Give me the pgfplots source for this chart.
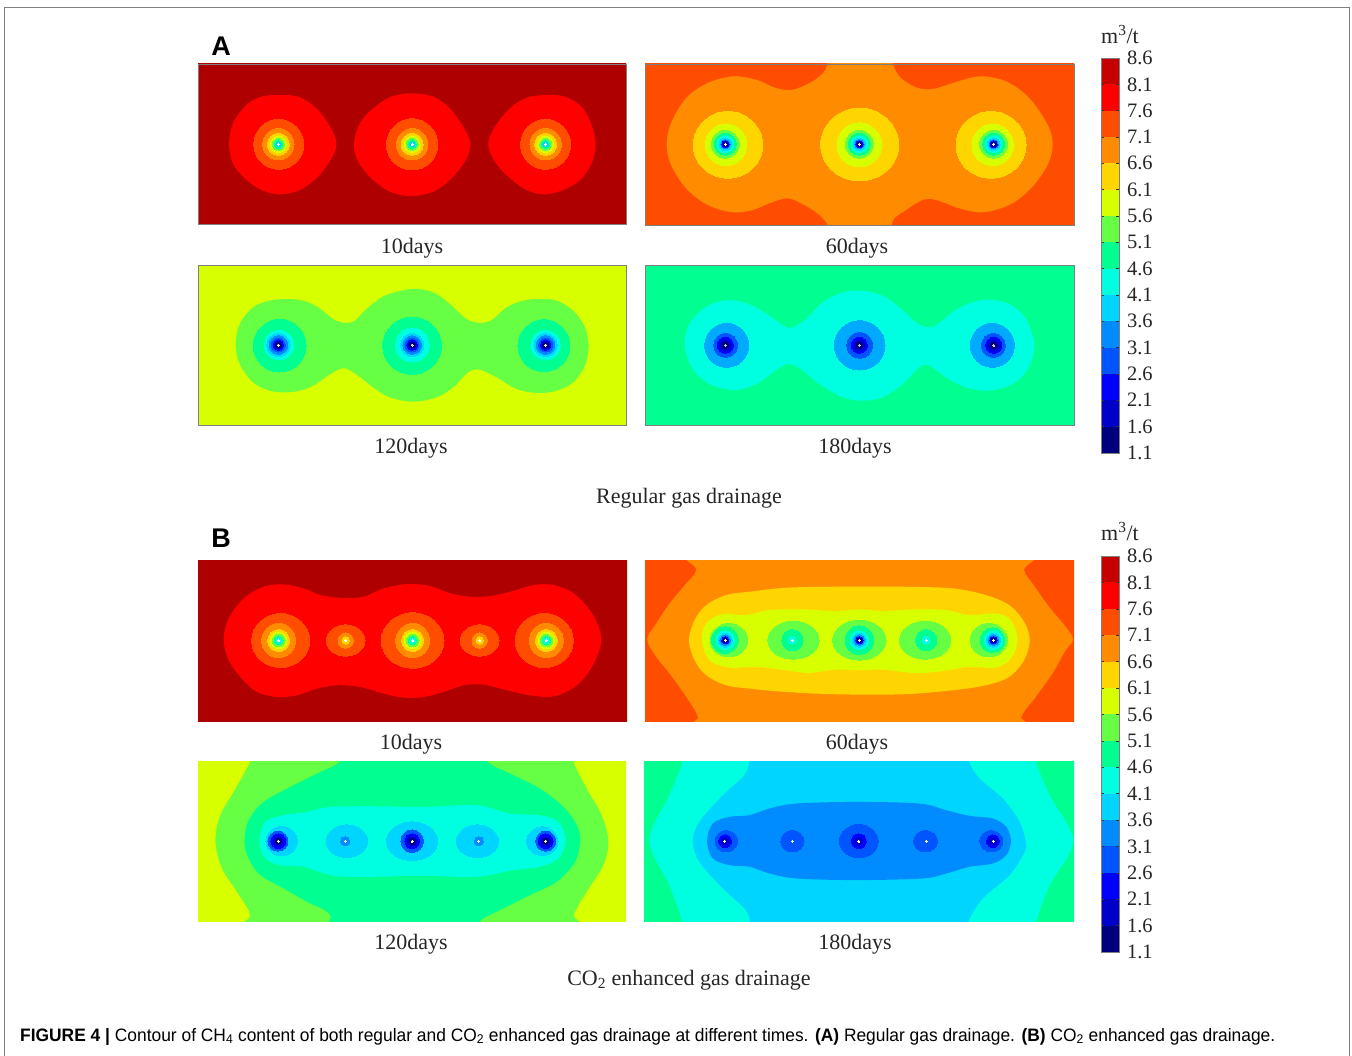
\documentclass[border=0pt]{standalone}
\usepackage{pgfplots}
\pgfplotsset{compat=1.18}
\usepackage{fontspec}
\setmainfont{Liberation Serif}
\newfontfamily\capfont{Liberation Sans}
\definecolor{LA}{HTML}{00007F}
\definecolor{LB}{HTML}{0000C8}
\definecolor{LC}{HTML}{0000FF}
\definecolor{LD}{HTML}{0055FF}
\definecolor{LE}{HTML}{008CFF}
\definecolor{LF}{HTML}{00D5FF}
\definecolor{LG}{HTML}{00FFE0}
\definecolor{LH}{HTML}{00FF90}
\definecolor{LI}{HTML}{66FF44}
\definecolor{LJ}{HTML}{D8FF00}
\definecolor{LK}{HTML}{FFD500}
\definecolor{LL}{HTML}{FF8C00}
\definecolor{LM}{HTML}{FF4D00}
\definecolor{LN}{HTML}{FF0000}
\definecolor{LO}{HTML}{AF0000}
\definecolor{LP}{HTML}{C40000}
\definecolor{LX}{HTML}{00AAFF}
\newcommand\bg[1]{\addplot[fill=#1,draw=none] coordinates {(-100,-100)(1500,-100)(1500,700)(-100,700)} --cycle;}
\newcommand\blob[2]{\addplot[fill=#1,draw=none,/tikz/smooth cycle,tension=0.55] coordinates {#2};}
\newcommand\ring[4]{\addplot[only marks,mark=*,mark size=#3/3,color=#1,mark options={draw=#1,line width=0pt,fill=#1,xscale=#2/#3}] coordinates {#4};}
\newcommand\lev[3]{\addplot[fill=#1,draw=none] coordinates {(0,#2)(1,#2)(1,#3)(0,#3)} --cycle;}
\tikzset{lb/.style={font=\fontsize{22}{26}\selectfont,anchor=base,text=black!85}}
\pgfplotsset{
  panel/.style n args={4}{at={(#1pt,-#2pt)},anchor=north west,scale only axis,width=#3pt,height=#4pt,
    y dir=reverse,xtick=\empty,ytick=\empty,axis on top},
  pa/.style={axis line style={draw=black!50,line width=0.8pt}},
  pb/.style={axis line style={draw=none}},
  cbar/.style n args={3}{at={(1101pt,-#1pt)},anchor=north west,scale only axis,width=#3pt,height=#2pt,
    xmin=0,xmax=1,ymin=1.1,ymax=8.6,xtick=\empty,axis on top,
    ytick={1.1,1.6,2.1,2.6,3.1,3.6,4.1,4.6,5.1,5.6,6.1,6.6,7.1,7.6,8.1,8.6},
    ytick pos=both,yticklabel pos=right,
    major tick length=3pt,tick style={draw=black!80,line width=0.6pt},
    axis line style={draw=black!50,line width=0.6pt},
    yticklabel style={font=\fontsize{20.5}{22}\selectfont,xshift=4.5pt,anchor=west,black!85},
    /pgf/number format/assume math mode=true,/pgf/number format/fixed,/pgf/number format/fixed zerofill,/pgf/number format/precision=1}
}
\newcommand\cbarbody{%
\lev{LA}{1.1}{1.6}\lev{LB}{1.6}{2.1}\lev{LC}{2.1}{2.6}\lev{LD}{2.6}{3.1}\lev{LE}{3.1}{3.6}%
\lev{LF}{3.6}{4.1}\lev{LG}{4.1}{4.6}\lev{LH}{4.6}{5.1}\lev{LI}{5.1}{5.6}\lev{LJ}{5.6}{6.1}%
\lev{LK}{6.1}{6.6}\lev{LL}{6.6}{7.1}\lev{LM}{7.1}{7.6}\lev{LN}{7.6}{8.1}\lev{LP}{8.1}{8.6}}
\begin{document}
\begin{tikzpicture}
\path[use as bounding box] (0,0) rectangle (1352pt,-1056pt);
% page layer: frame and texts
\begin{axis}[at={(0pt,-1056pt)},anchor=south west,scale only axis,width=1352pt,height=1056pt,
  xmin=0,xmax=1352,ymin=0,ymax=1056,y dir=reverse,hide axis,clip=false]
\addplot[draw=black!50,line width=1pt] coordinates {(4,1056)(4,7)(1349,7)(1349,1056)};
\node[lb] at (axis cs:412,253) {10days};
\node[lb] at (axis cs:857,253) {60days};
\node[lb] at (axis cs:411,453) {120days};
\node[lb] at (axis cs:855,453) {180days};
\node[lb] at (axis cs:689,503) {Regular gas drainage};
\node[lb] at (axis cs:411,749) {10days};
\node[lb] at (axis cs:857,749) {60days};
\node[lb] at (axis cs:411,949) {120days};
\node[lb] at (axis cs:855,949) {180days};
\node[lb] at (axis cs:689,985) {CO\textsubscript{2} enhanced gas drainage};
\node[lb,font=\fontsize{22}{24}\selectfont] at (axis cs:1120,43) {m\textsuperscript{3}/t};
\node[lb,font=\fontsize{22}{24}\selectfont] at (axis cs:1120,540) {m\textsuperscript{3}/t};
\node[anchor=base,font=\capfont\bfseries\fontsize{27}{30}\selectfont] at (axis cs:221,55) {A};
\node[anchor=base,font=\capfont\bfseries\fontsize{27}{30}\selectfont] at (axis cs:221,547) {B};
\node[anchor=base west,inner sep=0pt,font=\capfont\fontsize{18}{20}\selectfont] at (axis cs:20,1041)
 {\scalebox{0.966}[1]{\textbf{FIGURE 4 |} Contour of CH\textsubscript{4} content of both regular and CO\textsubscript{2} enhanced gas drainage at different times. \textbf{(A)} Regular gas drainage. \textbf{(B)} CO\textsubscript{2} enhanced gas drainage.}};
\end{axis}
% A 10 days
\begin{axis}[panel={198}{64}{428}{160},pa,xmin=25,xmax=1308,ymin=27,ymax=507]
\bg{LO}
\blob{LN}{(118,268)(130,205)(170,150)(215,125)(270,120)(325,125)(375,155)(415,205)(440,262)(425,310)(385,365)(330,405)(270,418)(215,405)(165,370)(130,325)}
\blob{LN}{(492,268)(510,205)(550,160)(605,125)(665,115)(730,125)(780,160)(820,215)(842,268)(825,320)(780,375)(730,410)(665,423)(600,410)(545,370)(505,320)}
\blob{LN}{(895,268)(915,215)(960,160)(1010,128)(1070,120)(1125,125)(1175,155)(1205,210)(1217,270)(1205,325)(1170,375)(1120,405)(1065,418)(1010,405)(955,365)(915,320)}
\ring{LM}{75}{75}{(267,268)(1067,268)}
\ring{LM}{77}{77}{(667,268)}
\ring{LL}{47}{47}{(266,268)(667,268)(1067,268)}
\ring{LK}{33}{33}{(266,268)(667,268)(1067,268)}
\ring{LJ}{24}{24}{(266,268)(667,268)(1067,268)}
\ring{LI}{18}{18}{(266,268)(667,268)(1067,268)}
\ring{LH}{13}{13}{(266,268)(667,268)(1067,268)}
\ring{LF}{8}{8}{(266,268)(667,268)(1067,268)}
\ring{white}{3}{3}{(266,268)(667,268)(1067,268)}
\end{axis}
% A 60 days
\begin{axis}[panel={645}{64}{429}{161},pa,xmin=27,xmax=1314,ymin=28,ymax=510]
\bg{LM}
\blob{LL}{(92,268)(105,205)(150,130)(215,85)(290,65)(360,75)(420,100)(470,105)(530,80)(565,50)(578,15)(590,-30)(750,-30)(765,15)(790,65)(840,98)(890,103)(950,85)(1030,65)(1110,80)(1180,130)(1235,210)(1250,268)(1235,330)(1185,400)(1120,450)(1040,472)(970,460)(900,435)(860,435)(810,465)(775,490)(765,515)(750,570)(590,570)(578,515)(550,480)(505,450)(455,430)(400,445)(350,465)(290,472)(215,450)(150,400)(105,330)}
\ring{LK}{104}{100}{(276,270)}
\ring{LK}{117}{109}{(671,269)}
\ring{LK}{105}{100}{(1065,270)}
\ring{LJ}{62}{62}{(270,270)(1070,270)}
\ring{LJ}{67}{66}{(670,270)}
\ring{LI}{42}{42}{(268,268)(670,268)(1073,268)}
\ring{LH}{33}{33}{(268,268)(670,268)(1073,268)}
\ring{LG}{25}{25}{(268,268)(670,268)(1073,268)}
\ring{LF}{19}{19}{(268,268)(670,268)(1073,268)}
\ring{LE}{14}{14}{(268,268)(670,268)(1073,268)}
\ring{LC}{11}{11}{(268,268)(670,268)(1073,268)}
\ring{LA}{7}{7}{(268,268)(670,268)(1073,268)}
\ring{white}{3}{3}{(268,268)(670,268)(1073,268)}
\end{axis}
% A 120 days
\begin{axis}[panel={198}{265}{428}{160},pa,xmin=25,xmax=1308,ymin=28,ymax=508]
\bg{LJ}
\blob{LI}{(138,268)(150,205)(190,155)(240,135)(290,130)(340,135)(385,155)(430,190)(465,202)(495,195)(530,160)(585,120)(665,100)(730,110)(780,145)(830,190)(875,202)(910,190)(950,155)(1000,135)(1050,130)(1100,135)(1150,165)(1185,215)(1196,270)(1185,330)(1150,380)(1100,405)(1045,412)(980,400)(920,365)(870,342)(835,350)(790,395)(740,425)(670,438)(600,425)(550,395)(505,360)(465,338)(430,350)(370,390)(330,405)(290,410)(240,405)(190,380)(150,325)}
\ring{LH}{79}{79}{(270,270)}
\ring{LH}{88}{86}{(667,270)}
\ring{LH}{78}{78}{(1062,270)}
\ring{LG}{44}{44}{(268,268)(1067,268)}
\ring{LG}{51}{51}{(667,268)}
\ring{LF}{35}{35}{(266,268)(667,268)(1067,268)}
\ring{LE}{28}{28}{(266,268)(667,268)(1067,268)}
\ring{LD}{21}{21}{(266,268)(667,268)(1067,268)}
\ring{LC}{16}{16}{(266,268)(667,268)(1067,268)}
\ring{LA}{10}{10}{(266,268)(667,268)(1067,268)}
\ring{white}{3}{3}{(266,268)(667,268)(1067,268)}
\end{axis}
% A 180 days
\begin{axis}[panel={645}{265}{429}{160},pa,xmin=27,xmax=1314,ymin=28,ymax=508]
\bg{LH}
\blob{LG}{(146,270)(160,205)(200,160)(250,137)(300,135)(350,150)(400,180)(445,212)(470,215)(510,190)(560,140)(620,110)(680,105)(740,120)(790,155)(840,200)(875,215)(905,205)(955,165)(1010,140)(1060,132)(1120,145)(1170,190)(1195,270)(1175,340)(1130,385)(1060,405)(990,395)(930,365)(880,330)(850,335)(800,385)(740,425)(680,435)(620,425)(550,385)(500,345)(460,325)(425,340)(370,380)(320,400)(280,402)(220,385)(170,340)}
\ring{LX}{66}{66}{(272,269)(1069,269)}
\ring{LX}{76}{74}{(671,269)}
\ring{LD}{36}{36}{(269,269)(1072,269)}
\ring{LD}{39}{39}{(671,269)}
\ring{LC}{24}{24}{(268,269)(670,269)(1073,269)}
\ring{LB}{17}{17}{(268,269)(670,269)(1073,269)}
\ring{LA}{10}{10}{(268,269)(670,269)(1073,269)}
\ring{white!80!black}{3}{3}{(268,269)(670,269)(1073,269)}
\end{axis}
% B 10 days
\begin{axis}[panel={198}{560}{429}{161},pb,xmin=23,xmax=1310,ymin=30,ymax=512]
\bg{LO}
\blob{LN}{(100,270)(115,205)(160,145)(220,110)(280,103)(340,115)(390,135)(450,143)(520,140)(580,115)(650,102)(720,108)(780,130)(840,140)(900,138)(960,125)(1030,105)(1090,105)(1150,130)(1205,190)(1233,265)(1210,340)(1160,405)(1090,438)(1020,435)(950,420)(880,403)(820,405)(760,425)(700,440)(640,442)(580,430)(510,410)(440,405)(380,415)(320,435)(260,440)(200,425)(150,380)(115,330)}
\ring{LM}{87}{81}{(271,271)(1062,271)}
\ring{LM}{94}{83}{(667,271)}
\ring{LM}{58}{47}{(466,271)(868,271)}
\ring{LL}{51}{51}{(265,271)(667,271)(1068,271)}
\ring{LK}{33}{33}{(265,271)(667,271)(1068,271)}
\ring{LJ}{25}{25}{(265,271)(667,271)(1068,271)}
\ring{LI}{19}{19}{(265,271)(667,271)(1068,271)}
\ring{LH}{13}{13}{(265,271)(667,271)(1068,271)}
\ring{LG}{9}{9}{(265,271)(667,271)(1068,271)}
\ring{LL}{23}{23}{(466,271)(868,271)}
\ring{LK}{11}{11}{(466,271)(868,271)}
\ring{white}{3}{3}{(265,271)(667,271)(1068,271)(466,271)(868,271)}
\end{axis}
% B 60 days
\begin{axis}[panel={645}{560}{429}{161},pb,xmin=26,xmax=1315,ymin=30,ymax=512]
\bg{LM}
\blob{LL}{(187,-30)(180,60)(150,100)(100,160)(60,220)(33,268)(60,320)(100,370)(150,440)(185,500)(187,570)(1157,570)(1157,500)(1200,440)(1250,370)(1290,300)(1312,268)(1290,230)(1240,170)(1190,100)(1165,60)(1157,-30)}
\blob{LK}{(158,270)(175,210)(210,165)(270,135)(340,125)(450,113)(600,110)(800,110)(950,115)(1050,135)(1120,165)(1165,215)(1182,270)(1165,330)(1120,380)(1050,405)(950,420)(800,432)(600,432)(450,425)(340,415)(270,405)(210,375)(175,330)}
\blob{LJ}{(197,270)(210,220)(260,192)(330,195)(400,180)(500,178)(600,183)(670,178)(740,183)(830,178)(930,180)(1000,195)(1080,190)(1125,210)(1145,270)(1125,325)(1080,352)(1000,350)(900,365)(830,368)(740,358)(670,360)(600,358)(520,368)(450,360)(360,350)(280,352)(220,330)}
\ring{LI}{56}{50}{(278,270)(1059,270)}
\ring{LI}{77}{57}{(472,270)(868,270)}
\ring{LI}{80}{60}{(670,270)}
\ring{LH}{40}{40}{(266,270)}
\ring{LH}{37}{37}{(1070,270)}
\ring{LH}{32}{32}{(469,270)(871,270)}
\ring{LH}{43}{43}{(670,270)}
\ring{LG}{28}{28}{(267,270)(670,270)(1073,270)}
\ring{LG}{12}{12}{(469,270)(871,270)}
\ring{LF}{21}{21}{(267,270)(670,270)(1073,270)}
\ring{LE}{16}{16}{(267,270)(670,270)(1073,270)}
\ring{LC}{11}{11}{(267,270)(670,270)(1073,270)}
\ring{LA}{7}{7}{(267,270)(670,270)(1073,270)}
\ring{white}{3}{3}{(267,270)(670,270)(1073,270)(469,270)(871,270)}
\end{axis}
% B 120 days
\begin{axis}[panel={198}{761}{428}{160},pb,xmin=23,xmax=1308,ymin=27,ymax=508]
\bg{LJ}
\blob{LI}{(183,-30)(180,27)(130,120)(90,190)(75,268)(95,350)(140,420)(180,490)(183,570)(1150,570)(1152,490)(1190,420)(1240,340)(1255,268)(1235,190)(1190,110)(1150,27)(1150,-30)}
\blob{LH}{(163,268)(175,205)(220,150)(300,105)(380,65)(450,28)(460,-30)(880,-30)(890,28)(960,65)(1050,110)(1120,165)(1160,220)(1170,268)(1155,330)(1100,390)(1020,430)(950,465)(900,490)(870,510)(860,570)(430,570)(420,490)(350,450)(280,410)(210,370)(175,320)}
\blob{LG}{(207,268)(225,210)(280,190)(350,180)(420,165)(550,163)(700,165)(860,160)(960,185)(1050,190)(1105,210)(1127,265)(1105,320)(1050,345)(970,355)(860,375)(700,372)(550,375)(430,372)(340,345)(270,340)(225,320)}
\ring{LF}{47}{44}{(274,268)}
\ring{LF}{62}{49}{(470,268)}
\ring{LF}{77}{58}{(666,268)}
\ring{LF}{63}{49}{(862,268)}
\ring{LF}{47}{43}{(1057,268)}
\ring{LE}{14}{14}{(465,268)(866,268)}
\ring{LD}{30}{30}{(263,268)(1067,268)}
\ring{LD}{34}{34}{(666,268)}
\ring{LC}{22}{22}{(264,268)(666,268)(1067,268)}
\ring{LB}{14}{14}{(264,268)(666,268)(1067,268)}
\ring{LA}{9}{9}{(264,268)(666,268)(1067,268)}
\ring{white}{3}{3}{(264,268)(666,268)(1067,268)(465,268)(866,268)}
\end{axis}
% B 180 days
\begin{axis}[panel={644}{761}{430}{160},pb,xmin=24,xmax=1313,ymin=27,ymax=508]
\bg{LH}
\blob{LG}{(140,-30)(140,27)(100,130)(40,265)(100,400)(138,510)(140,570)(1200,570)(1200,510)(1240,400)(1310,268)(1240,130)(1198,27)(1198,-30)}
\blob{LF}{(343,-30)(340,27)(325,70)(260,130)(190,210)(170,268)(190,330)(260,410)(325,470)(342,510)(343,570)(995,570)(997,510)(1040,440)(1120,370)(1165,300)(1168,268)(1150,210)(1100,140)(1030,80)(998,27)(995,-30)}
\blob{LE}{(213,268)(230,215)(280,195)(340,190)(400,170)(480,155)(660,150)(850,155)(930,175)(1000,192)(1070,200)(1110,225)(1124,268)(1110,310)(1070,335)(1000,345)(930,365)(860,380)(660,385)(480,380)(400,365)(340,345)(280,340)(230,320)}
\ring{LD}{34}{32}{(271,268)}
\ring{LD}{35}{32}{(469,268)}
\ring{LD}{58}{50}{(668,268)}
\ring{LD}{36}{32}{(868,268)}
\ring{LD}{35}{32}{(1065,268)}
\ring{LC}{19}{19}{(267,268)(1070,268)}
\ring{LC}{22}{22}{(668,268)}
\ring{LB}{12}{12}{(267,268)(668,268)(1070,268)}
\ring{white}{3}{3}{(266,268)(469,268)(668,268)(870,268)(1071,268)}
\end{axis}
% colour bars
\begin{axis}[cbar={58}{395}{18}]
\cbarbody
\end{axis}
\begin{axis}[cbar={556}{396}{18}]
\cbarbody
\end{axis}
\end{tikzpicture}
\end{document}
